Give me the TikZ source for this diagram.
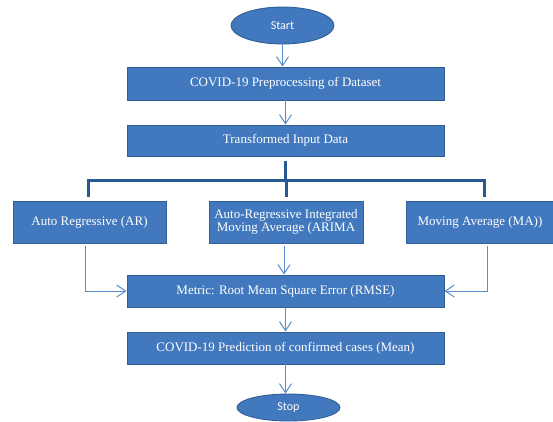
\documentclass[tikz,border=0pt]{standalone}
\usepackage{fontspec}
\setmainfont{Liberation Serif}
\newfontfamily\calibri{Carlito}
\usetikzlibrary{arrows.meta,shapes.geometric}
\definecolor{boxfill}{RGB}{65,120,190}
\definecolor{boxedge}{RGB}{50,95,150}
\definecolor{brkc}{RGB}{38,88,148}
\definecolor{arrowc}{RGB}{88,140,205}
\begin{document}
\begin{tikzpicture}[x=1pt,y=-1pt,
  box/.style={draw=boxedge, line width=0.9pt, fill=boxfill, text=white,
    font=\fontsize{13}{13}\selectfont, inner sep=0pt, align=center,
    minimum width=317pt, minimum height=32pt},
  rowbox/.style={box, minimum width=153pt, minimum height=42pt},
  term/.style={ellipse, draw=boxedge, line width=0.9pt, fill=boxfill, text=white,
    font=\calibri\fontsize{12}{12}\selectfont, inner sep=0pt, minimum width=103pt},
  flow/.style={draw=arrowc, line width=1pt, -{Straight Barb[length=9pt,width=12pt,line width=1pt]}},
  brk/.style={draw=brkc, line width=3pt}]
\useasboundingbox (0,0) rectangle (553,421);

\node[term, minimum height=37pt] (start) at (282.5,25.5) {Start};
\node[box, minimum height=33pt] (pre) at (285.5,83.5) {COVID-19 Preprocessing of Dataset};
\node[box, minimum height=31pt] (trans) at (285.5,140.5) {Transformed Input Data};
\node[rowbox] (ar) at (89.5,222) {Auto Regressive (AR)};
\node[rowbox, minimum width=154pt] (arima) at (286,222) {Auto-Regressive Integrated\\[0.5pt]Moving Average (ARIMA};
\node[rowbox, minimum width=148pt] (ma) at (480,222) {Moving Average (MA))};
\node[box] (rmse) at (285.5,291) {Metric: Root Mean Square Error (RMSE)};
\node[box] (pred) at (285.5,348) {COVID-19 Prediction of confirmed cases (Mean)};
\node[term, minimum height=27pt] (stop) at (288.5,407.5) {Stop};

\coordinate (hb) at (286,180);

\draw[flow] (start.south) -- (start.south |- pre.north);
\draw[flow] (pre.south) -- (pre.south |- trans.north);

\draw[brk] ([yshift=-5pt]trans.south) -- (trans.south |- hb);
\draw[brk] ([xshift=-1pt,yshift=4pt]ar.north) |- (hb) -| ([xshift=4pt,yshift=4pt]ma.north);
\draw[brk] ([yshift=4pt]arima.north) -- (arima.north |- hb);

\draw[flow] ([xshift=-4.5pt,yshift=-3pt]ar.south) |- (rmse.west);
\draw[flow] ([xshift=-2pt,yshift=-3pt]arima.south) -- ([xshift=-2pt]arima.south |- rmse.north);
\draw[flow] ([xshift=7pt,yshift=-3pt]ma.south) |- (rmse.east);
\draw[flow] (rmse.south) -- (pred.north);
\draw[flow] (pred.south) -- (pred.south |- stop.north);
\end{tikzpicture}
\end{document}
